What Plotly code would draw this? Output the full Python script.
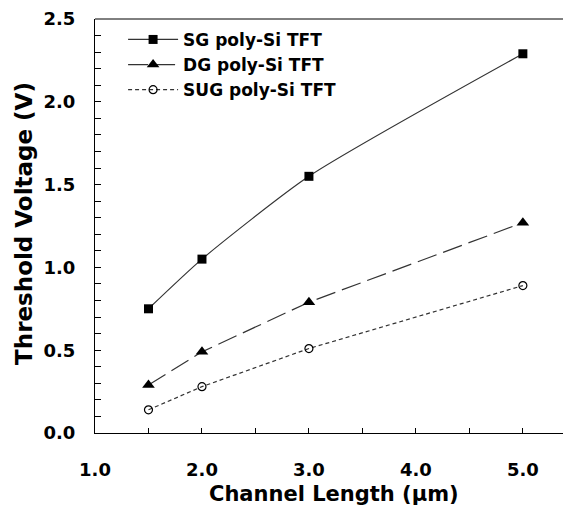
import plotly.graph_objects as go

channel_length = [1.5, 2.0, 3.0, 5.0]
sg_vth = [0.75, 1.05, 1.55, 2.29]
dg_vth = [0.29, 0.49, 0.79, 1.27]
sug_vth = [0.14, 0.28, 0.51, 0.89]
series_names = ["SG poly-Si TFT", "DG poly-Si TFT", "SUG poly-Si TFT"]
x_ticks = [1.0, 2.0, 3.0, 4.0, 5.0]
x_tick_labels = ["1.0", "2.0", "3.0", "4.0", "5.0"]
y_ticks = [0.0, 0.5, 1.0, 1.5, 2.0, 2.5]
y_tick_labels = ["0.0", "0.5", "1.0", "1.5", "2.0", "2.5"]
x_title = "Channel Length (μm)"
y_title = "Threshold Voltage (V)"

FONT = "DejaVu Sans"

fig = go.Figure()
fig.add_trace(go.Scatter(
    x=channel_length, y=sg_vth, name=series_names[0], mode="lines+markers",
    line=dict(color="#333333", width=1.2, shape="spline", smoothing=0.6),
    marker=dict(symbol="square", size=9, color="black"),
))
fig.add_trace(go.Scatter(
    x=channel_length, y=dg_vth, name=series_names[1], mode="lines+markers",
    line=dict(color="#333333", width=1.2, dash="20px,7px"),
    marker=dict(symbol="triangle-up", size=11, color="black"),
))
fig.add_trace(go.Scatter(
    x=channel_length, y=sug_vth, name=series_names[2], mode="lines+markers",
    line=dict(color="#333333", width=1.2, dash="4px,3px"),
    marker=dict(symbol="circle-open", size=8, color="black", line=dict(width=1.2)),
))

# page body has an 8px margin, so the figure is drawn 8px smaller
fig.update_layout(
    width=563, height=500,
    margin=dict(l=87, r=0, t=11, b=75),
    paper_bgcolor="white", plot_bgcolor="white",
    font=dict(family=FONT, color="black"),
    showlegend=True,
    legend=dict(
        x=0.059, y=0.993, xanchor="left", yanchor="top",
        font=dict(family=FONT, size=17, color="black", weight="bold"),
        bgcolor="rgba(0,0,0,0)", tracegroupgap=0, itemwidth=50,
    ),
    xaxis=dict(
        range=[1.0, 5.45], showline=True, linecolor="black", linewidth=1, mirror=False,
        tickmode="array", tickvals=x_ticks, ticktext=x_tick_labels,
        ticks="inside", ticklen=5, tickcolor="black",
        minor=dict(dtick=0.5, tick0=1.0, ticks="inside", ticklen=5, tickcolor="black"),
        tickfont=dict(family=FONT, size=18, weight="bold"),
        ticklabelstandoff=20, ticklabeloverflow="allow",
        showgrid=False, zeroline=False, automargin=False,
    ),
    yaxis=dict(
        range=[0, 2.5], showline=True, linecolor="black", linewidth=1, mirror=False,
        tickmode="array", tickvals=y_ticks, ticktext=y_tick_labels,
        ticks="inside", ticklen=6, tickcolor="black",
        minor=dict(dtick=0.1, tick0=0, ticks="inside", ticklen=6, tickcolor="black"),
        tickfont=dict(family=FONT, size=18, weight="bold"),
        ticklabelstandoff=15, ticklabeloverflow="allow",
        showgrid=False, zeroline=False, automargin=False,
    ),
    annotations=[
        dict(text=x_title, xref="paper", yref="paper", x=0.502, y=0, yshift=-61,
             xanchor="center", yanchor="middle", showarrow=False,
             font=dict(family=FONT, size=21, weight="bold", color="black")),
        dict(text=y_title, xref="paper", yref="paper", x=0, y=0.505, xshift=-71,
             xanchor="center", yanchor="middle", showarrow=False, textangle=-90,
             font=dict(family=FONT, size=23, weight="bold", color="black")),
    ],
)
fig.add_shape(type="line", xref="paper", yref="paper", x0=0, x1=1, y0=1, y1=1,
              line=dict(color="black", width=1))

fig.write_html("out.html")
